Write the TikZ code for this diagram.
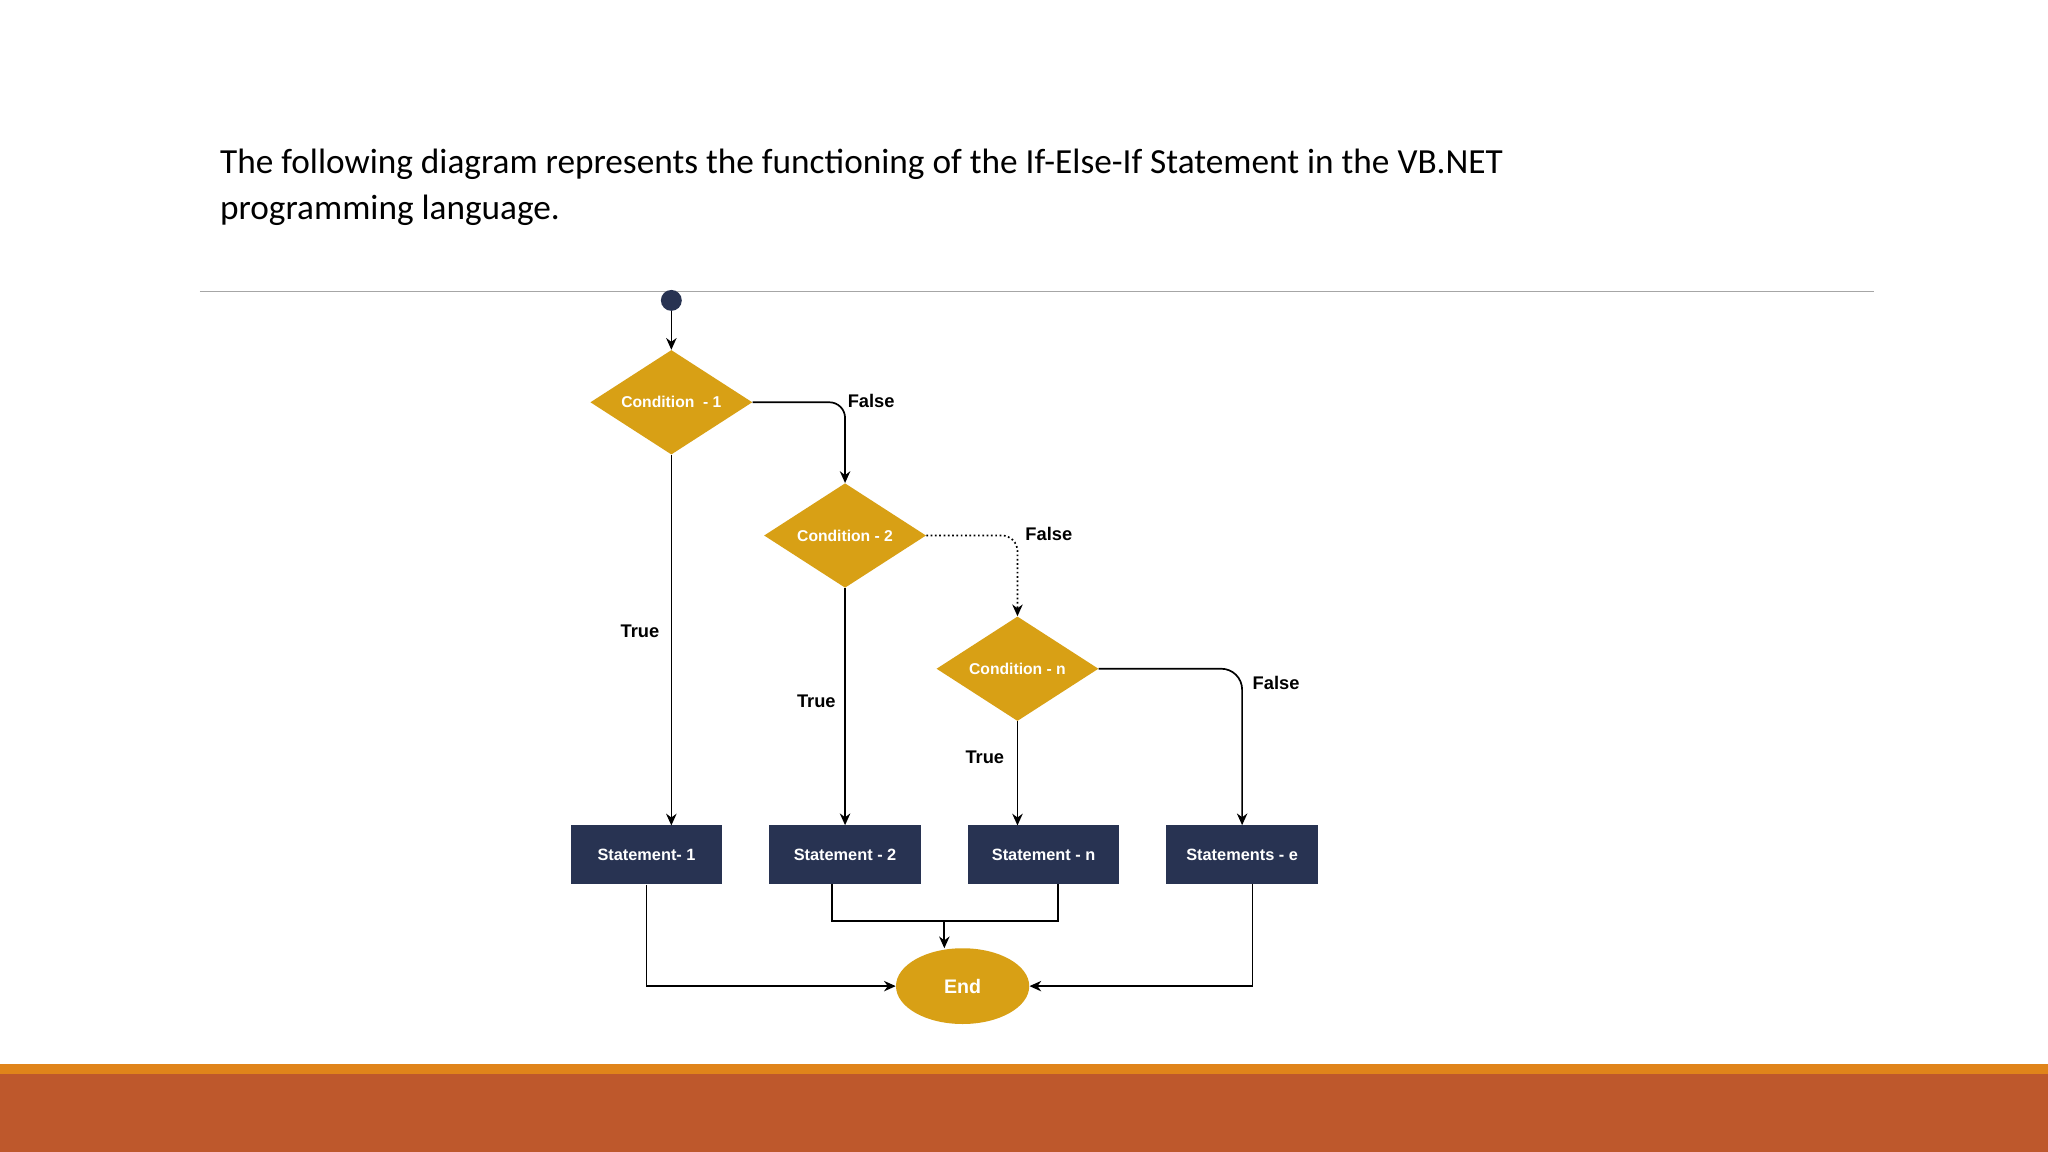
\documentclass[tikz,border=0pt]{standalone}
\usepackage{fontspec}
\setmainfont{Carlito}
\newfontfamily\arialfont{Liberation Sans}
\usetikzlibrary{shapes.geometric,arrows.meta}
\definecolor{gold}{HTML}{D8A015}
\definecolor{navy}{HTML}{283352}
\definecolor{band}{HTML}{E0841A}
\definecolor{rust}{HTML}{BE582C}
\begin{document}
\begin{tikzpicture}[x=1pt,y=-1pt,
  cond/.style={diamond,fill=gold,minimum width=124pt,minimum height=80pt,inner sep=0pt,aspect=1.55,text=white,font=\arialfont\bfseries\fontsize{12}{14}\selectfont},
  stmt/.style={rectangle,fill=navy,minimum width=116pt,minimum height=45pt,inner sep=0pt,text=white,font=\arialfont\bfseries\fontsize{12.5}{14}\selectfont},
  lab/.style={font=\arialfont\bfseries\fontsize{14}{16}\selectfont},
  conn/.style={line width=1.3pt,-{Stealth[length=9pt,width=8pt]}},
  link/.style={line width=1.3pt}]
\useasboundingbox (0,0) rectangle (1568,882);
\fill[white] (0,0) rectangle (1568,882);
\fill[band] (0,815) rectangle (1568,822);
\fill[rust] (0,822) rectangle (1568,882);
\draw[gray!70,line width=0.8pt] (153,223) -- (1435,223);
\node[anchor=west,font=\fontsize{27}{35}\selectfont] (t1) at (165,126) {The following diagram represents the functioning of the If-Else-If Statement in the VB.NET};
\node[anchor=west,font=\fontsize{27}{35}\selectfont] (t2) at (165,161) {programming language.};
\node[circle,fill=navy,minimum size=16pt,inner sep=0pt] (s) at (514,230) {};
\node[cond] (c1) at (514,308) {Condition\ \ - 1};
\node[cond] (c2) at (647,410) {Condition - 2};
\node[cond] (cn) at (779,512) {Condition - n};
\node[stmt] (s1) at (495,654.5) {Statement- 1};
\node[stmt] (s2) at (647,654.5) {Statement - 2};
\node[stmt] (sn) at (799,654.5) {Statement - n};
\node[stmt] (se) at (951,654.5) {Statements - e};
\node[ellipse,fill=gold,minimum width=102pt,minimum height=58pt,inner sep=0pt,text=white,font=\arialfont\bfseries\fontsize{15}{16}\selectfont] (e) at (737,755) {End};
\draw[conn] (s) -- (c1.north);
\draw[conn,rounded corners=12pt] (c1.east) -- (647,308) -- (c2.north);
\draw[conn,dotted,rounded corners=12pt] (c2.east) -- (779,410) -- (cn.north);
\draw[conn,rounded corners=16pt] (cn.east) -- (951,512) -- (se.north);
\draw[conn] (c1.south) -- (514,632);
\draw[conn] (c2.south) -- (s2.north);
\draw[conn] (cn.south) -- (779,632);
\node[lab] (f1) at (667,307) {False};
\node[lab] (f2) at (803,409) {False};
\node[lab] (f3) at (977,523) {False};
\node[lab] (r1) at (490,483) {True};
\node[lab] (r2) at (625,537) {True};
\node[lab] (r3) at (754,580) {True};
\draw[conn] (s1.south) |- (e.west);
\draw[conn] (959,677) |- (e.east);
\draw[link] (637,677) |- (810,705) -- (810,677);
\coordinate (m) at (723,705);
\draw[conn] (m) -- (723,726);
\end{tikzpicture}
\end{document}
